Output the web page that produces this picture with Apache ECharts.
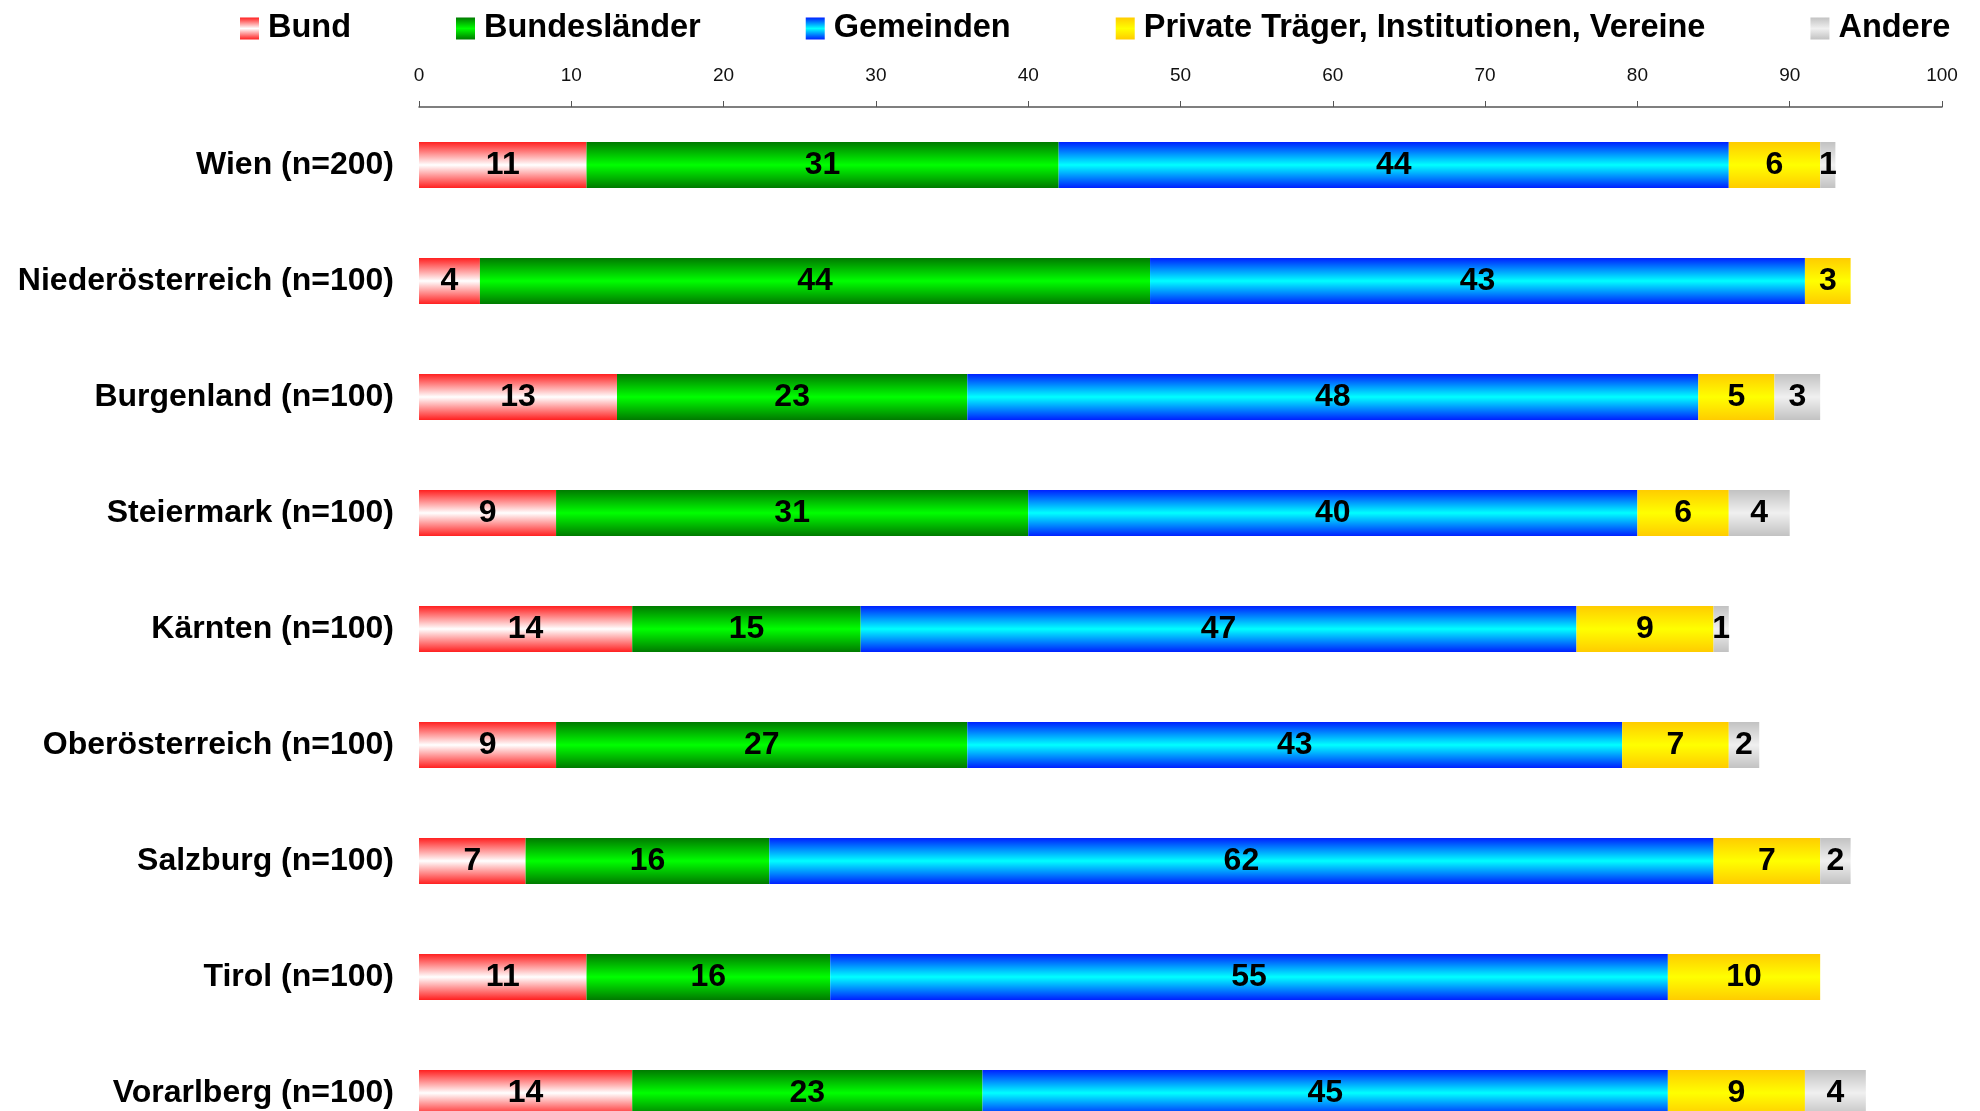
<!DOCTYPE html>
<html>
<head>
<meta charset="utf-8">
<script src="https://cdn.jsdelivr.net/npm/echarts@6/dist/echarts.min.js"></script>
<style>
  html, body { margin: 0; padding: 0; background: #fff; }
  #chart { width: 1980px; height: 1111px; }
</style>
</head>
<body>
<div id="chart"></div>
<script>
  // Kategorien und Werte (Prozent)
  const regions = ['Wien (n=200)', 'Niederösterreich (n=100)', 'Burgenland (n=100)', 'Steiermark (n=100)',
    'Kärnten (n=100)', 'Oberösterreich (n=100)', 'Salzburg (n=100)', 'Tirol (n=100)', 'Vorarlberg (n=100)']
  const bund = [11, 4, 13, 9, 14, 9, 7, 11, 14]
  const bundeslaender = [31, 44, 23, 31, 15, 27, 16, 16, 23]
  const gemeinden = [44, 43, 48, 40, 47, 43, 62, 55, 45]
  const private_ = [6, 3, 5, 6, 9, 7, 7, 10, 9]
  const andere = [1, 0, 3, 4, 1, 2, 2, 0, 4]
  const ticks = [0, 10, 20, 30, 40, 50, 60, 70, 80, 90, 100]

  // Verlauf: Rand dunkel, Mitte hell
  function grad(edge, mid) {
    return new echarts.graphic.LinearGradient(0, 0, 0, 1, [
      {offset: 0, color: edge},
      {offset: 0.5, color: mid},
      {offset: 1, color: edge}
    ])
  }

  const seriesDefs = [
    {name: 'Bund', data: bund, color: grad('#ff2020', '#ffffff')},
    {name: 'Bundesländer', data: bundeslaender, color: grad('#007a00', '#00ff00')},
    {name: 'Gemeinden', data: gemeinden, color: grad('#0020ff', '#00ffff')},
    {name: 'Private Träger, Institutionen, Vereine', data: private_, color: grad('#ffcc00', '#ffff00')},
    {name: 'Andere', data: andere, color: grad('#c2c2c2', '#f0f0f0')}
  ]

  let myChart = echarts.init(document.getElementById('chart'))
  myChart.setOption({
    animation: false,
    legend: {
      left: 235,
      top: 7,
      itemWidth: 19,
      itemHeight: 22,
      itemGap: 105,
      icon: 'rect',
      textStyle: {
        fontFamily: 'Liberation Sans, Arial, sans-serif',
        fontSize: 32.5,
        fontWeight: 'bold',
        color: '#000',
        padding: [0, 0, 0, 4]
      },
      data: seriesDefs.map(s => s.name)
    },
    grid: {
      left: 419,
      right: 38,
      top: 107,
      height: 1044,
      outerBoundsMode: 'none'
    },
    xAxis: {
      type: 'value',
      position: 'top',
      min: 0,
      max: 100,
      interval: 10,
      splitLine: {show: false},
      axisLine: {show: true, lineStyle: {color: '#555', width: 1.5}},
      axisTick: {show: true, length: 6, lineStyle: {color: '#555'}},
      axisLabel: {
        margin: 22,
        fontFamily: 'Liberation Sans, Arial, sans-serif',
        fontSize: 19,
        color: '#111',
        formatter: v => ticks.indexOf(v) >= 0 ? String(v) : ''
      }
    },
    yAxis: {
      type: 'category',
      inverse: true,
      data: regions,
      axisLine: {show: false},
      axisTick: {show: false},
      axisLabel: {
        margin: 25,
        fontFamily: 'Liberation Sans, Arial, sans-serif',
        fontSize: 32,
        fontWeight: 'bold',
        color: '#000'
      }
    },
    series: seriesDefs.map(s => ({
      name: s.name,
      type: 'bar',
      stack: 'total',
      barWidth: 46,
      itemStyle: {color: s.color},
      label: {
        show: true,
        position: 'inside',
        fontFamily: 'Liberation Sans, Arial, sans-serif',
        fontSize: 32,
        fontWeight: 'bold',
        color: '#000',
        formatter: p => p.value ? String(p.value) : ''
      },
      data: s.data.map(v => v === 0 ? null : v)
    }))
  })
</script>
</body>
</html>
